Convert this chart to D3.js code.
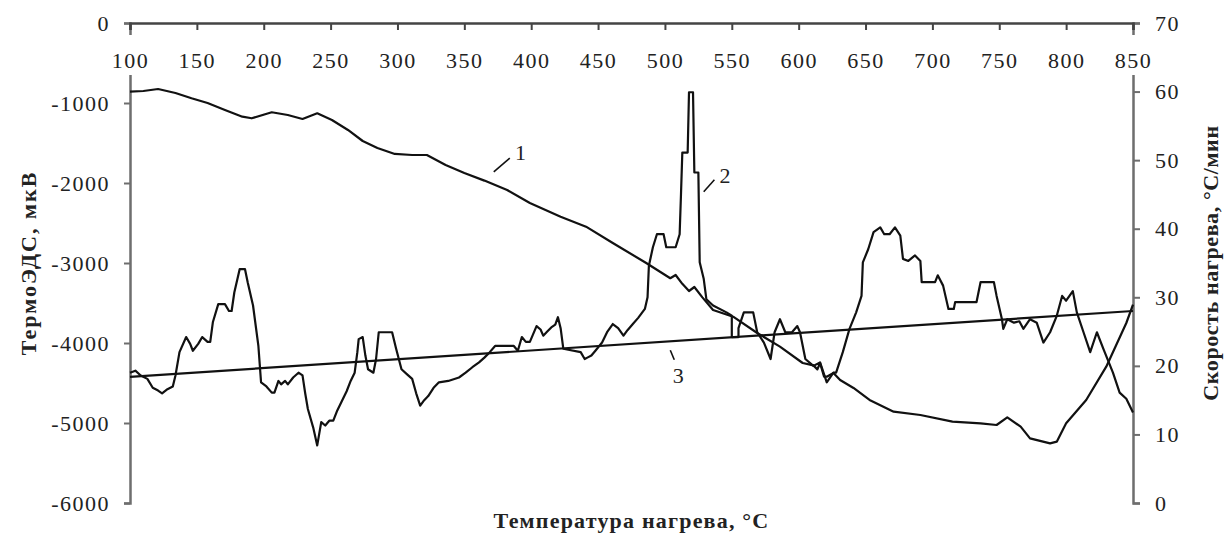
<!DOCTYPE html>
<html>
<head>
<meta charset="utf-8">
<script src="https://cdn.jsdelivr.net/npm/d3@7"></script>
<style>
  body { margin: 0; background: #fff; }
  #graph { width: 1225px; height: 535px; }
</style>
</head>
<body>
<div id="graph"></div>
<script>
'use strict';

// curve 1: thermo-EMF, left axis (mkV)
const emfTemp = [100, 110, 121, 134, 146, 158, 171, 184, 191, 206, 218, 229, 240, 251, 263, 274, 285, 298, 311, 322,
    336, 350, 365, 382, 399, 422, 441, 461, 486, 504, 508, 513, 518, 522, 528, 536, 551, 569, 586, 603,
    611, 614, 616, 619, 621, 626, 631, 641, 653, 671, 691, 715, 736, 748, 756, 766, 773, 788, 793, 800,
    815, 830, 845, 850];
const emfValues = [-858, -850, -825, -875, -941, -1000, -1087, -1171, -1191, -1116, -1150, -1200, -1129, -1212, -1337, -1475, -1562, -1637, -1650, -1650,
    -1775, -1875, -1970, -2087, -2250, -2421, -2546, -2750, -3000, -3190, -3150, -3260, -3350, -3300, -3430, -3587, -3671, -3875, -4046, -4250,
    -4280, -4330, -4250, -4420, -4421, -4375, -4462, -4562, -4712, -4858, -4900, -4983, -5004, -5025, -4929, -5046, -5192, -5254, -5233, -5004,
    -4712, -4296, -3750, -3520];

// curve 2: heating rate, right axis (°C/min)
const rateTemp = [100, 104, 108, 113, 117, 121, 124, 128, 132, 134, 137, 142, 145, 147, 151, 154, 158, 160, 162, 166,
    171, 174, 176, 178, 182, 186, 188, 192, 196, 198, 202, 206, 208, 211, 213, 216, 218, 222, 226, 229,
    231, 233, 237, 240, 243, 246, 249, 252, 255, 258, 262, 265, 268, 270, 271, 274, 276, 278, 282, 284,
    286, 296, 299, 303, 307, 311, 314, 317, 320, 323, 327, 331, 338, 346, 351, 356, 361, 365, 369, 373,
    387, 390, 393, 396, 399, 404, 407, 409, 412, 415, 418, 420, 422, 424, 437, 440, 442, 445, 448, 453,
    457, 461, 465, 469, 472, 476, 480, 485, 487, 488, 491, 494, 499, 501, 508, 511, 512, 513, 517, 518,
    521, 522, 525, 526, 529, 531, 536, 546, 550, 550, 555, 555, 559, 566, 569, 574, 579, 582, 586, 590,
    595, 599, 601, 605, 611, 616, 621, 626, 628, 633, 638, 643, 647, 648, 652, 656, 661, 664, 668, 672,
    676, 678, 682, 687, 691, 692, 702, 704, 708, 712, 716, 717, 733, 736, 746, 748, 752, 753, 756, 761,
    765, 768, 773, 778, 783, 788, 793, 797, 800, 805, 808, 813, 818, 823, 828, 835, 840, 845, 850];
const rateValues = [19.0, 19.3, 18.6, 18.1, 16.8, 16.4, 16.0, 16.6, 17.0, 18.6, 22.0, 24.2, 23.2, 22.2, 23.2, 24.2, 23.5, 23.5, 26.4, 29.0,
    29.0, 28.0, 28.0, 30.7, 34.1, 34.1, 32.2, 28.8, 22.9, 17.6, 17.0, 16.1, 16.1, 17.8, 17.3, 17.8, 17.3, 18.3, 19.0, 18.6,
    16.0, 13.7, 11.0, 8.4, 11.8, 11.3, 12.0, 12.0, 13.5, 14.7, 16.3, 17.8, 19.0, 22.0, 23.9, 24.2, 21.5, 19.5, 19.0, 21.0,
    24.9, 24.9, 22.5, 19.5, 18.8, 18.1, 16.0, 14.2, 15.0, 15.6, 16.8, 17.6, 17.8, 18.3, 19.0, 19.8, 20.5, 21.2, 22.0, 22.9,
    22.9, 22.2, 24.2, 23.5, 23.5, 25.8, 25.3, 24.4, 25.0, 25.6, 26.0, 27.1, 25.5, 22.5, 22.0, 21.0, 21.2, 21.5, 22.2, 23.4,
    25.0, 26.1, 25.5, 24.4, 25.2, 26.1, 27.0, 28.3, 30.0, 34.6, 37.3, 39.2, 39.2, 37.3, 37.3, 39.2, 45.0, 51.1, 51.1, 59.9,
    59.9, 48.2, 48.2, 35.1, 32.7, 29.7, 28.8, 27.8, 27.3, 24.2, 24.2, 25.5, 27.8, 27.8, 24.9, 23.4, 21.0, 24.9, 26.8, 24.9,
    24.9, 25.8, 24.9, 21.0, 20.0, 20.5, 17.6, 19.0, 19.0, 22.0, 25.4, 27.8, 30.2, 35.1, 37.0, 39.5, 40.2, 39.2, 39.2, 40.2,
    39.0, 35.6, 35.3, 36.1, 35.3, 32.2, 32.2, 33.2, 31.7, 28.3, 28.3, 29.3, 29.3, 32.2, 32.2, 30.2, 26.8, 25.4, 26.8, 26.3,
    26.5, 25.4, 26.8, 26.3, 23.4, 24.9, 27.3, 30.2, 29.5, 30.9, 27.8, 24.9, 22.0, 24.9, 22.4, 19.0, 16.1, 15.2, 13.2];

// curve 3: linear trend of heating rate, right axis
const trendTemp = [100, 850];
const trendValues = [18.4, 28.0];

// tick labels
const tempTicks = [100, 150, 200, 250, 300, 350, 400, 450, 500, 550, 600, 650, 700, 750, 800, 850];
const emfTicks = [0, -1000, -2000, -3000, -4000, -5000, -6000];
const rateTicks = [0, 10, 20, 30, 40, 50, 60, 70];

// curve numbers with leader lines (temperature, left-axis value)
const labelNames = ['1', '2', '3'];
const labelTemp = [392, 545, 510];
const labelValue = [-1610, -1900, -4400];
const leaderTemp = [[372, 384], [529, 537], [504, 507]];
const leaderValue = [[-1860, -1690], [-2110, -1960], [-4090, -4210]];

const axisTitleX = 'Температура нагрева, °С';
const axisTitleLeft = 'ТермоЭДС, мкВ';
const axisTitleRight = 'Скорость нагрева, °С/мин';

const fontFamily = '"Liberation Serif", "Times New Roman", Times, serif';

function plot() {
    const div = document.getElementById('graph');
    const width = 1225;
    const height = 535;
    const svg = d3.select(div)
          .append('svg')
          .attr('width', width)
          .attr('height', height)
          .attr('font-family', fontFamily);

    const margin = ({top: 23, right: 92, bottom: 32, left: 130});
    const axisColor = '#6e6e6e';

    const x = d3.scaleLinear()
          .domain([100, 850])
          .range([margin.left, width - margin.right]);
    const yLeft = d3.scaleLinear()
          .domain([-6000, 0])
          .range([height - margin.bottom, margin.top]);
    const yRight = d3.scaleLinear()
          .domain([0, 70])
          .range([height - margin.bottom, margin.top]);

    const styleTicks = sel => sel.selectAll('.tick text')
        .attr('font-family', fontFamily)
        .attr('font-size', 22)
        .attr('letter-spacing', 1.5)
        .attr('fill', '#222');

    // left axis
    const gl = svg.append('g')
        .attr('transform', `translate(${margin.left},0)`)
        .call(d3.axisLeft(yLeft).tickValues(emfTicks).tickSize(6).tickPadding(14).tickFormat(d3.format('d')));
    gl.attr('font-family', fontFamily);
    gl.select('.domain').attr('stroke', axisColor).attr('stroke-width', 2.5);
    gl.selectAll('.tick line').attr('stroke', axisColor).attr('stroke-width', 2);
    styleTicks(gl);
    gl.selectAll('.tick text').text(d => d === 0 ? '0' : '-' + Math.abs(d));

    // right axis
    const gr = svg.append('g')
        .attr('transform', `translate(${width - margin.right},0)`)
        .call(d3.axisRight(yRight).tickValues(rateTicks).tickSize(7).tickPadding(15));
    gr.attr('font-family', fontFamily);
    gr.select('.domain').attr('stroke', axisColor).attr('stroke-width', 2.5);
    gr.selectAll('.tick line').attr('stroke', axisColor).attr('stroke-width', 2);
    styleTicks(gr);

    // temperature axis along the zero line, labels below it
    const gx = svg.append('g')
        .attr('transform', `translate(0,${margin.top})`)
        .call(d3.axisBottom(x).tickValues(tempTicks).tickSize(7).tickPadding(22));
    gx.attr('font-family', fontFamily);
    gx.select('.domain').attr('stroke', '#444').attr('stroke-width', 2.5);
    gx.selectAll('.tick line').attr('stroke', '#444').attr('stroke-width', 2);
    styleTicks(gx);
    gx.selectAll('.tick').insert('rect', 'text')
        .attr('x', -22)
        .attr('y', 12)
        .attr('width', 44)
        .attr('height', 40)
        .attr('fill', '#fff');

    const graph = svg.append('g')
        .attr('fill', 'none')
        .attr('stroke', '#111')
        .attr('stroke-width', 2.2)
        .attr('stroke-linejoin', 'round');

    const emfLine = d3.line()
          .x(d => x(d[0]))
          .y(d => yLeft(d[1]));
    const rateLine = d3.line()
          .x(d => x(d[0]))
          .y(d => yRight(d[1]));

    graph.append('path')
        .attr('d', emfLine(d3.zip(emfTemp, emfValues)));
    graph.append('path')
        .attr('d', rateLine(d3.zip(rateTemp, rateValues)));
    graph.append('path')
        .attr('d', rateLine(d3.zip(trendTemp, trendValues)));

    // leader lines and curve numbers
    graph.selectAll('line.leader')
        .data(labelNames)
        .join('line')
        .attr('class', 'leader')
        .attr('stroke-width', 1.6)
        .attr('x1', (d, i) => x(leaderTemp[i][0]))
        .attr('y1', (d, i) => yLeft(leaderValue[i][0]))
        .attr('x2', (d, i) => x(leaderTemp[i][1]))
        .attr('y2', (d, i) => yLeft(leaderValue[i][1]));

    svg.append('g')
        .selectAll('text')
        .data(labelNames)
        .join('text')
        .text(d => d)
        .attr('x', (d, i) => x(labelTemp[i]))
        .attr('y', (d, i) => yLeft(labelValue[i]))
        .attr('dy', '0.35em')
        .attr('text-anchor', 'middle')
        .attr('fill', '#222')
        .attr('font-size', 22);

    // axis titles
    svg.append('text')
        .attr('x', (x.range()[0] + x.range()[1]) / 2)
        .attr('y', height - 7)
        .attr('text-anchor', 'middle')
        .attr('font-weight', 'bold')
        .attr('font-size', 22)
        .attr('letter-spacing', 1.2)
        .attr('fill', '#222')
        .text(axisTitleX);

    svg.append('text')
        .attr('transform', `translate(28,${(yLeft.range()[0] + yLeft.range()[1]) / 2}) rotate(-90)`)
        .attr('text-anchor', 'middle')
        .attr('dy', '0.35em')
        .attr('font-weight', 'bold')
        .attr('font-size', 22)
        .attr('letter-spacing', 2)
        .attr('fill', '#222')
        .text(axisTitleLeft);

    svg.append('text')
        .attr('transform', `translate(1210,${(yRight.range()[0] + yRight.range()[1]) / 2}) rotate(-90)`)
        .attr('text-anchor', 'middle')
        .attr('dy', '0.35em')
        .attr('font-weight', 'bold')
        .attr('font-size', 22)
        .attr('letter-spacing', 0.6)
        .attr('fill', '#222')
        .text(axisTitleRight);
}

window.onload = plot;
</script>
</body>
</html>
